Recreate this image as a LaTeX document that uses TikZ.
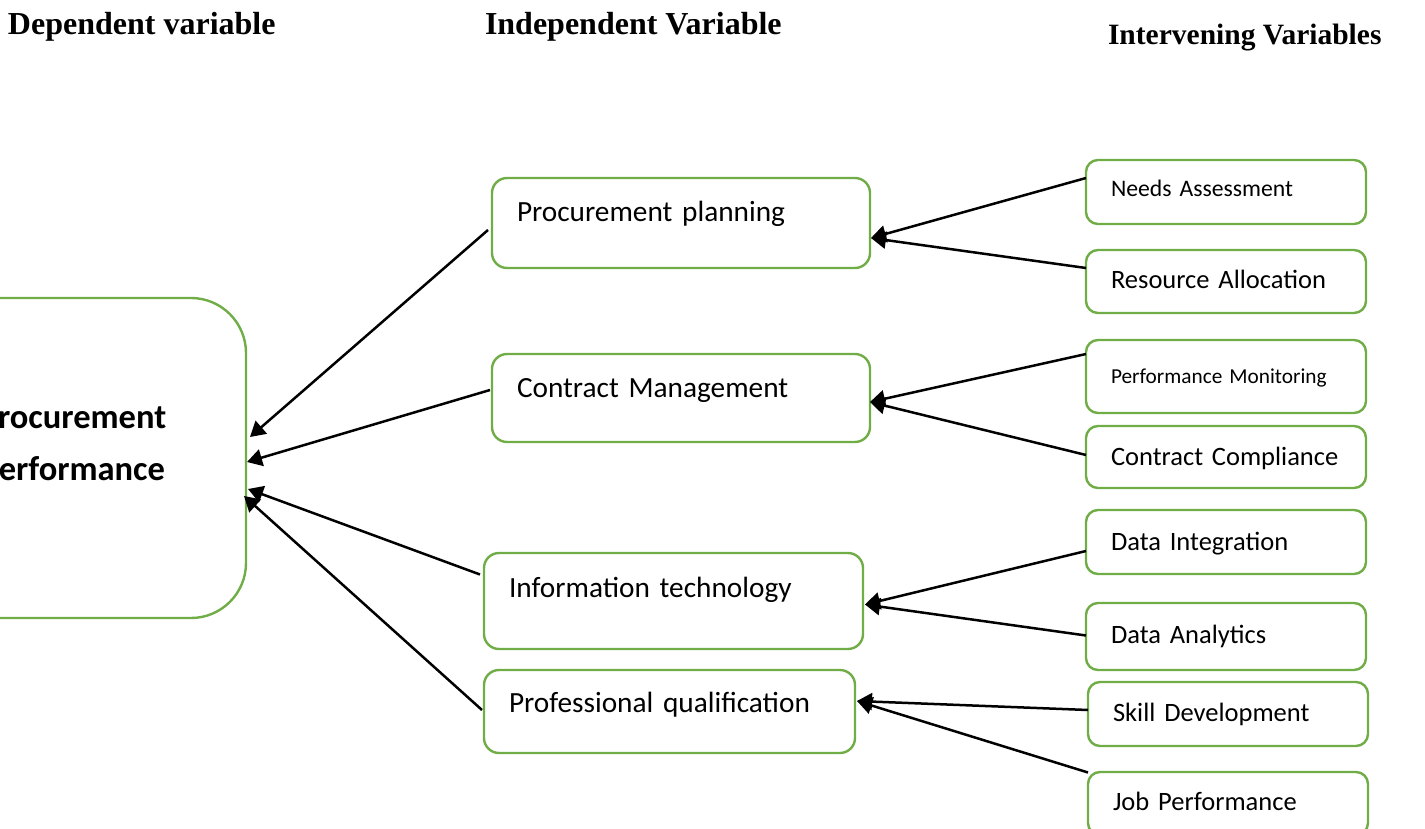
\documentclass[tikz,border=0pt]{standalone}
\usepackage{fontspec}
\setmainfont{Carlito}
\newfontfamily\hdrfont{Liberation Serif}
\usetikzlibrary{arrows.meta}
\definecolor{boxgreen}{HTML}{70AD47}
\begin{document}
\begin{tikzpicture}[x=1pt,y=-1pt,
  every node/.style={inner sep=0pt,outer sep=0pt},
  header/.style={anchor=base west,font=\hdrfont\bfseries\fontsize{32}{38}\selectfont},
  varbox/.style={draw=boxgreen,line width=2.4pt,anchor=north west,align=left,
    inner xsep=25pt,inner ysep=0pt},
  midbox/.style={varbox,rounded corners=15pt,font=\fontsize{29.3}{35}\selectfont},
  sidebox/.style={varbox,rounded corners=12pt,font=\fontsize{26.5}{32}\selectfont,
    text width=230pt},
  bigbox/.style={draw=boxgreen,line width=2.4pt,anchor=north west,rounded corners=55pt,
    minimum width=356pt,minimum height=320pt},
  bigtext/.style={font=\bfseries\fontsize{34.5}{52}\selectfont,align=center},
  link/.style={draw=black,line width=2.5pt,-{Triangle[length=15pt,width=17pt]}}
]
\useasboundingbox (0,0) rectangle (1425,829);
\clip (0,0) rectangle (1425,829);

% column headings
\node[header] (hdep) at (8,35) {Dependent variable};
\node[header] (hind) at (485,35) {Independent Variable};
\node[header,font=\hdrfont\bfseries\fontsize{29.5}{35}\selectfont] (hint) at (1108,45) {Intervening Variables};

% dependent variable
\node[bigbox,label={[bigtext,xshift=5pt,yshift=15pt]center:Procurement\\Performance}] (perf) at (-110,298) {};

% independent variables
\node[midbox,text width=328pt,minimum height=90pt,text height=18.7pt,text depth=21.3pt] (plan) at (492,178) {Procurement planning};
\node[midbox,text width=328pt,minimum height=88pt,text height=19pt,text depth=21pt] (cmgt) at (492,354) {Contract Management};
\node[midbox,text width=329pt,minimum height=96pt,text height=16.2pt,text depth=23.8pt] (itec) at (484,553) {Information technology};
\node[midbox,text width=321pt,minimum height=83pt,text height=21.2pt,text depth=18.8pt] (qual) at (484,670) {Professional qualification};

% intervening variables
\node[sidebox,minimum height=64pt,text height=24.7pt,text depth=15.3pt,font=\fontsize{23.7}{28}\selectfont] (needs) at (1086,160) {Needs Assessment};
\node[sidebox,minimum height=63pt,text height=26.8pt,text depth=13.2pt] (alloc) at (1086,250) {Resource Allocation};
\node[sidebox,minimum height=73pt,text height=26.8pt,text depth=13.2pt,font=\fontsize{21.3}{26}\selectfont] (monit) at (1086,340) {Performance Monitoring};
\node[sidebox,minimum height=62pt,text height=28pt,text depth=12pt] (compl) at (1086,426) {Contract Compliance};
\node[sidebox,minimum height=64pt,text height=28pt,text depth=12pt] (integ) at (1086,510) {Data Integration};
\node[sidebox,minimum height=67pt,text height=26.7pt,text depth=13.3pt] (analy) at (1086,603) {Data Analytics};
\node[sidebox,minimum height=64pt,text height=27.7pt,text depth=12.3pt] (skill) at (1088,682) {Skill Development};
\node[sidebox,minimum height=63pt,text height=27pt,text depth=13pt] (jobp) at (1088,772) {Job Performance};

% intervening -> independent
\draw[link] ([yshift=14pt]needs.west) -- ([xshift=1pt,yshift=-15pt]plan.east);
\draw[link] ([yshift=13.5pt]alloc.west) -- ([xshift=1pt,yshift=-15pt]plan.east);
\draw[link] ([yshift=22.5pt]monit.west) -- ([yshift=-4pt]cmgt.east);
\draw[link] ([yshift=2pt]compl.west) -- ([yshift=-4pt]cmgt.east);
\draw[link] ([yshift=-9pt]integ.west) -- ([xshift=2pt,yshift=-3.5pt]itec.east);
\draw[link] ([yshift=1pt]analy.west) -- ([xshift=2pt,yshift=-3.5pt]itec.east);
\draw[link] ([yshift=4pt]skill.west) -- ([xshift=2pt,yshift=10.5pt]qual.east);
\draw[link] ([yshift=31pt]jobp.west) -- ([xshift=2pt,yshift=10.5pt]qual.east);

% independent -> dependent
\draw[link] ([xshift=-4pt,yshift=-7pt]plan.west) -- ([xshift=4pt,yshift=21pt]perf.east);
\draw[link] ([xshift=-2pt,yshift=8pt]cmgt.west) -- ([xshift=1pt,yshift=-4pt]perf.east);
\draw[link] ([xshift=-4pt,yshift=26.5pt]itec.west) -- ([xshift=2pt,yshift=-31pt]perf.east);
\draw[link] ([xshift=-2pt,yshift=1.5pt]qual.west) -- ([xshift=-2pt,yshift=-38pt]perf.east);
\end{tikzpicture}
\end{document}
